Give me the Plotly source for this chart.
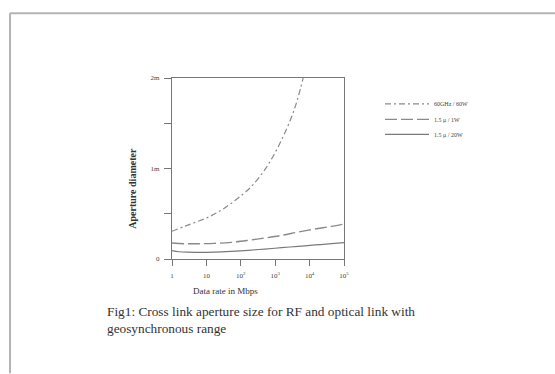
import plotly.graph_objects as go

# ---- data ----
rf_x = [1, 2.3, 5.7, 14, 34, 84, 205, 500, 980, 1900, 3300, 4700, 6500]
rf_y = [0.306, 0.361, 0.416, 0.479, 0.564, 0.674, 0.803, 0.987, 1.171, 1.392, 1.613, 1.797, 2.0]

opt1w_x = [1, 2.3, 5.7, 17.5, 53, 164, 500, 1530, 4680, 14300, 43800, 100000]
opt1w_y = [0.177, 0.169, 0.169, 0.173, 0.184, 0.206, 0.232, 0.261, 0.298, 0.331, 0.361, 0.387]

opt20w_x = [1, 1.6, 2.8, 5.7, 17.5, 53, 164, 500, 1530, 4680, 14300, 43800, 100000]
opt20w_y = [0.092, 0.080, 0.075, 0.074, 0.077, 0.085, 0.096, 0.110, 0.125, 0.140, 0.155, 0.169, 0.180]

names = ["60GHz / 60W", "1.5 \u03bc / 1W", "1.5 \u03bc / 20W"]

x_tickvals = [1, 10, 100, 1000, 10000, 100000]
x_ticktext = ["1", "10", "10<sup>2</sup>", "10<sup>3</sup>", "10<sup>4</sup>", "10<sup>5</sup>"]
y_tickvals = [0, 0.5, 1, 1.5, 2]
y_ticktext = ["0", "", "1m", "", "2m"]

x_title = "Data rate in Mbps"
y_title = "Aperture diameter"
caption = "Fig1: Cross link aperture size for RF and optical link with<br>geosynchronous range"

W, H = 555, 374
L, R, T, B = 172, 344, 78, 259.5

fig = go.Figure()
fig.add_trace(go.Scatter(x=rf_x, y=rf_y, mode="lines", name=names[0], legend="legend",
                         line=dict(color="#8a8a8a", width=1.2, dash="6px,3px,2px,3px", shape="spline")))
fig.add_trace(go.Scatter(x=opt1w_x, y=opt1w_y, mode="lines", name=names[1], legend="legend2",
                         line=dict(color="#8a8a8a", width=1.4, dash="12px,4px", shape="spline")))
fig.add_trace(go.Scatter(x=opt20w_x, y=opt20w_y, mode="lines", name=names[2], legend="legend3",
                         line=dict(color="#7a7a7a", width=1.2, shape="spline")))

def px(xp):
    return (xp - L) / (R - L)

def py(yp):
    return (B - yp) / (B - T)

font_serif = "Liberation Serif, Times New Roman, serif"

def leg(ypix):
    return dict(x=px(380), y=py(ypix), xanchor="left", yanchor="middle",
                font=dict(size=6, color="#444444", family=font_serif),
                bgcolor="rgba(0,0,0,0)", itemwidth=44, borderwidth=0)

fig.update_layout(
    width=W, height=H,
    margin=dict(l=L, r=W - R, t=T, b=H - B, pad=0),
    paper_bgcolor="white", plot_bgcolor="white",
    font=dict(family=font_serif, color="#333333"),
    showlegend=True,
    legend=leg(104),
    legend2=leg(119.5),
    legend3=leg(134.5),
    xaxis=dict(type="log", range=[0, 5], tickvals=x_tickvals, ticktext=x_ticktext,
               ticks="outside", ticklen=6, tickcolor="#777777", tickwidth=1,
               showline=True, linecolor="#777777", linewidth=1.2, mirror=True,
               showgrid=False, zeroline=False, ticklabelstandoff=3,
               tickfont=dict(size=7, color="#444444", family=font_serif)),
    yaxis=dict(range=[0, 2], tickvals=y_tickvals, ticktext=y_ticktext,
               ticks="outside", ticklen=7, tickcolor="#777777", tickwidth=1,
               showline=True, linecolor="#777777", linewidth=1.2, mirror=True,
               showgrid=False, zeroline=False, ticklabelstandoff=3,
               tickfont=dict(size=7, color="#444444", family=font_serif)),
    shapes=[
        dict(type="line", xref="paper", yref="paper", x0=px(10), x1=px(555), y0=py(13), y1=py(13),
             line=dict(color="#b4b4b4", width=2)),
        dict(type="line", xref="paper", yref="paper", x0=px(10), x1=px(10), y0=py(13), y1=py(374),
             line=dict(color="#b4b4b4", width=2)),
    ],
    annotations=[
        dict(text=x_title, xref="paper", yref="paper", x=px(225), y=py(292),
             xanchor="center", yanchor="middle", showarrow=False,
             font=dict(size=9, color="#333333", family=font_serif)),
        dict(text="<b>" + y_title + "</b>", xref="paper", yref="paper", x=px(133), y=py(189),
             xanchor="center", yanchor="middle", showarrow=False, textangle=-90,
             font=dict(size=10, color="#333333", family=font_serif)),
        dict(text=caption, xref="paper", yref="paper", x=px(105), y=py(303),
             xanchor="left", yanchor="top", align="left", showarrow=False,
             font=dict(size=13.3, color="#333333", family=font_serif)),
    ],
)

fig.write_html("out.html", config={"displayModeBar": False},
               post_script="document.body.style.margin='0';document.body.style.overflow='hidden';")
